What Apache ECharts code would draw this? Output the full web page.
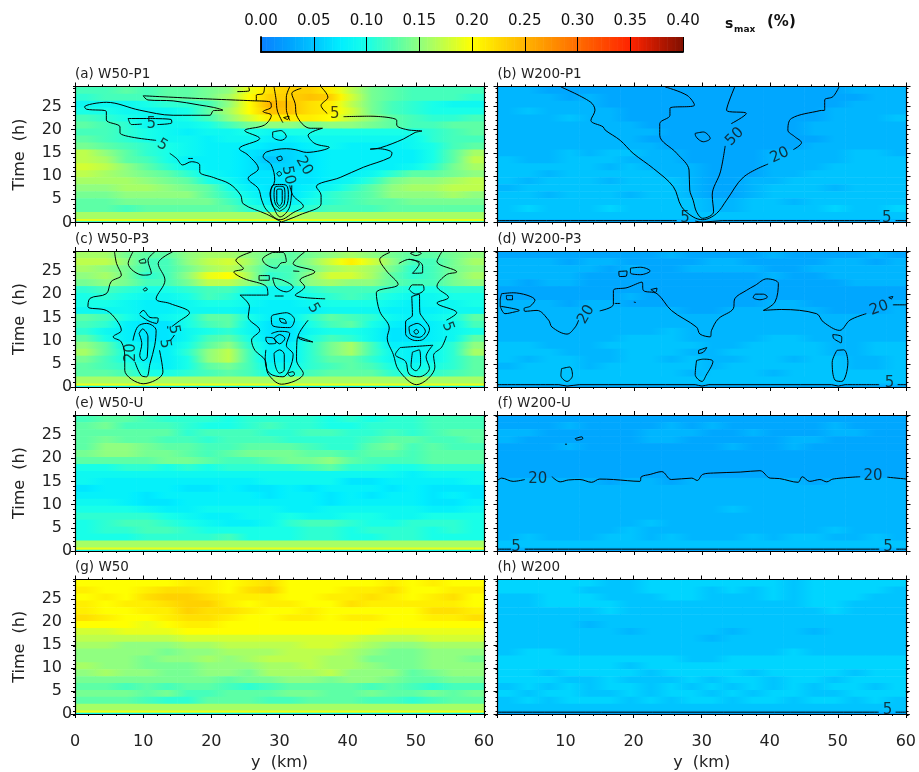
<!DOCTYPE html>
<html><head><meta charset="utf-8">
<script src="https://cdn.jsdelivr.net/npm/echarts@6/dist/echarts.min.js"></script>
<style>html,body{margin:0;padding:0;background:#fff}#c{width:919px;height:772px}</style>
</head><body><div id="c"></div>
<script>
// cell values in units of 0.01 %, top row first; rows centred at 28.5,27,...,3 h, columns 3 km wide
const cellsA=[
[12,12,13,12,13,13,14,15,19,22,23,23,21,17,14,13,12,12,12,12],
[11,12,12,12,13,13,14,16,20,23,23,24,23,18,14,13,12,12,12,11],
[9,9,9,10,11,11,12,15,20,25,24,22,21,17,14,12,11,10,9,9],
[10,10,9,9,9,10,13,16,20,24,24,22,21,18,14,12,11,10,10,10],
[12,11,10,9,9,10,12,15,18,21,21,21,20,17,15,13,12,11,11,12],
[13,12,11,9,9,9,10,12,14,15,15,14,15,15,14,13,12,12,13,13],
[12,12,11,10,9,8,9,9,10,9,10,10,10,10,10,10,10,11,12,13],
[13,12,11,10,9,9,8,9,9,8,8,9,9,9,9,9,9,11,12,12],
[14,13,12,11,10,9,8,8,8,7,7,8,9,8,8,8,9,10,12,13],
[17,15,13,11,10,9,8,8,7,6,6,7,8,8,8,8,8,10,13,16],
[17,16,13,12,10,8,8,8,7,5,6,7,8,8,8,8,8,10,13,17],
[18,17,15,13,11,9,8,8,7,6,6,7,8,8,8,8,9,11,14,16],
[17,16,15,14,13,11,9,8,7,7,7,7,8,8,9,11,13,13,14,15],
[16,16,16,15,14,13,10,9,7,7,7,7,8,9,11,14,15,15,16,17],
[15,15,16,16,15,14,13,10,8,7,7,8,9,11,13,15,16,16,17,17],
[14,14,15,15,15,15,13,11,9,7,7,9,11,12,13,15,15,15,16,15],
[13,13,14,14,14,14,14,12,10,8,8,10,11,12,13,13,14,14,14,14],
[13,13,12,13,13,13,13,13,11,10,10,11,12,12,12,13,13,13,13,13]];
const cellsB=[
[4,4,3,3,3,3,3,3,3,3,3,3,3,3,3,3,3,4,4,4],
[4,4,4,3,4,3,3,3,3,3,3,3,3,3,3,3,3,3,4,4],
[4,4,4,4,4,3,3,3,3,3,3,3,3,3,3,3,3,4,4,4],
[4,5,4,4,4,4,3,3,3,3,3,3,3,3,3,3,4,4,4,4],
[4,4,4,5,4,4,3,3,3,3,3,3,3,3,3,3,4,4,4,5],
[4,4,4,4,4,4,4,3,3,3,3,3,3,3,3,4,4,4,4,4],
[4,4,4,4,4,4,4,4,3,3,3,3,3,3,3,4,4,4,4,4],
[4,4,4,4,4,4,4,3,3,3,3,3,3,3,3,3,4,4,4,4],
[4,4,4,4,4,4,4,4,3,3,3,3,3,3,3,4,4,4,4,4],
[4,4,4,5,4,5,5,4,4,3,3,3,3,4,4,4,4,5,5,4],
[5,4,4,5,5,5,4,4,4,3,3,3,3,4,4,4,4,5,5,5],
[5,5,5,5,5,4,5,4,4,4,3,3,3,4,4,4,5,5,5,5],
[5,5,4,5,5,5,5,5,4,4,3,3,3,4,4,5,5,5,5,5],
[5,4,5,5,5,4,5,5,5,4,3,3,4,4,5,5,5,5,5,5],
[4,5,5,5,5,5,5,5,5,4,3,3,4,5,5,5,4,5,5,5],
[5,5,4,5,5,5,4,5,5,4,3,3,4,5,5,5,5,5,5,5],
[5,5,5,5,5,5,5,5,5,5,4,4,5,5,4,5,5,5,5,5],
[5,6,5,5,5,6,5,5,5,5,4,4,5,5,5,5,6,5,5,6]];
const cellsC=[
[16,16,14,13,13,15,16,16,15,14,13,14,15,16,15,14,13,13,14,15],
[17,17,15,12,12,15,17,18,16,13,13,15,18,21,18,15,12,12,14,16],
[16,15,14,12,12,14,16,17,15,12,12,14,16,17,16,14,11,12,14,15],
[15,16,14,11,12,15,19,20,16,11,12,15,18,18,16,13,11,12,14,16],
[14,15,14,12,12,14,17,17,15,12,12,15,16,15,15,13,12,12,14,15],
[11,12,11,10,10,11,12,12,10,9,9,11,12,12,12,11,10,10,11,11],
[10,11,10,9,9,10,12,11,9,9,9,10,11,12,11,10,9,9,10,10],
[10,10,9,8,8,9,10,10,9,8,8,9,10,10,10,9,8,9,9,10],
[9,9,9,8,8,9,9,9,8,8,8,8,9,9,9,8,8,8,9,9],
[13,12,10,8,9,10,13,13,10,8,8,11,13,12,11,9,8,9,10,13],
[12,11,8,7,7,10,12,13,9,7,7,10,12,13,10,8,7,8,9,12],
[11,9,8,7,7,9,10,11,9,7,7,9,10,10,9,7,7,8,9,10],
[13,10,8,7,7,9,12,13,10,7,7,10,12,11,9,7,7,8,9,13],
[15,13,9,8,8,10,13,15,11,8,8,11,14,16,12,8,8,9,11,15],
[16,13,10,8,8,11,15,17,12,8,8,11,14,16,12,9,8,9,11,16],
[14,12,10,8,8,10,15,17,12,8,8,11,13,13,11,9,8,9,11,13],
[13,12,11,9,8,10,13,14,12,9,9,11,12,13,12,10,9,10,11,13],
[13,13,12,10,10,11,12,13,12,10,10,12,13,13,13,11,10,11,12,13]];
const cellsD=[
[3,3,3,3,3,3,3,3,4,3,3,3,3,4,3,3,3,3,4,3],
[4,4,4,3,4,4,3,3,3,3,4,4,3,3,3,3,4,4,3,4],
[4,4,4,4,4,3,4,3,3,4,4,4,4,3,3,4,4,4,4,4],
[4,4,4,4,3,3,3,3,3,3,3,3,3,4,3,3,4,4,4,4],
[4,3,4,4,3,3,3,3,3,3,3,3,3,3,3,3,3,4,4,4],
[3,3,3,3,3,3,3,3,3,3,3,3,3,3,3,3,3,3,3,3],
[3,3,3,3,3,3,4,3,3,3,3,3,3,3,3,3,3,3,3,3],
[4,4,4,3,4,4,3,3,3,3,3,3,3,4,4,3,3,3,3,4],
[4,4,4,4,4,4,4,4,4,3,3,4,4,4,4,4,3,3,3,4],
[4,4,4,4,4,4,4,4,4,4,4,4,4,4,4,4,4,4,4,4],
[4,4,4,4,4,4,4,4,4,4,4,4,4,4,4,4,4,4,4,4],
[4,4,4,4,4,4,4,4,5,4,4,4,4,4,4,4,4,4,4,4],
[4,4,4,4,4,4,5,5,5,4,4,4,4,5,5,4,4,4,4,4],
[5,5,4,4,4,5,5,5,5,5,4,4,5,5,5,5,4,4,5,5],
[5,5,5,4,4,4,5,5,5,4,4,5,5,5,5,5,4,4,5,5],
[5,4,5,5,4,4,5,5,4,5,4,4,5,5,4,5,5,4,4,5],
[4,5,5,5,4,5,5,5,5,5,4,5,5,5,5,5,5,4,4,5],
[5,5,5,5,5,5,5,5,5,4,5,5,5,4,5,5,5,5,5,5]];
const cellsE=[
[12,13,13,12,11,11,11,10,11,11,11,11,10,11,10,11,11,12,12,12],
[13,14,12,12,12,11,10,10,11,12,11,11,10,10,11,11,11,12,12,12],
[13,13,13,13,13,11,12,12,12,11,11,12,12,11,11,12,11,12,13,13],
[13,14,13,13,12,12,11,12,12,12,11,11,11,11,12,13,13,12,12,13],
[13,15,15,14,13,13,12,12,13,13,13,12,11,11,13,14,12,13,12,12],
[14,15,15,14,14,13,12,13,14,14,14,13,13,12,13,13,12,13,13,13],
[13,13,13,13,14,14,13,12,12,13,14,14,15,13,12,12,12,13,13,13],
[10,10,11,11,10,11,10,11,11,11,11,12,13,11,11,10,10,11,11,11],
[9,9,9,9,9,9,9,9,9,9,9,9,9,9,9,9,8,9,9,9],
[9,8,8,8,8,8,8,8,8,9,9,9,9,7,7,8,8,8,8,9],
[7,8,8,8,8,7,7,8,7,7,8,7,8,8,8,7,8,7,7,7],
[8,8,8,7,8,8,8,8,8,7,8,8,7,8,7,8,8,7,8,7],
[9,9,8,7,7,8,8,8,8,8,8,8,7,8,8,8,8,7,7,8],
[10,10,10,9,8,8,9,9,9,9,8,8,9,9,9,9,9,8,8,9],
[11,11,11,11,10,9,8,8,9,9,10,9,9,10,10,9,9,10,10,10],
[10,11,12,12,11,10,9,8,8,9,11,12,12,11,10,10,11,11,11,10],
[10,11,11,12,12,11,10,10,10,10,10,11,11,10,11,11,11,10,11,10],
[10,10,10,11,11,11,11,12,10,10,10,11,11,10,10,11,11,10,10,10]];
const cellsF=[
[3,3,3,3,3,3,3,3,3,3,3,3,3,3,3,3,3,3,3,3],
[3,3,3,4,3,3,3,3,4,3,4,3,3,3,3,3,4,3,3,3],
[4,4,3,3,3,3,3,4,4,4,3,3,4,3,3,3,4,4,3,3],
[4,3,3,3,3,3,3,4,4,3,3,3,3,3,4,4,3,3,3,3],
[3,3,3,4,3,3,3,3,3,3,3,4,3,3,4,3,3,3,3,3],
[3,3,3,3,3,3,3,3,3,3,3,3,3,3,3,3,3,3,3,3],
[3,3,3,3,3,3,3,3,3,3,3,3,3,3,3,3,3,3,3,3],
[3,3,3,3,3,3,3,3,3,3,3,3,3,3,3,3,3,3,3,3],
[3,3,3,3,3,3,3,3,3,3,3,3,3,3,3,3,3,3,3,3],
[4,4,4,4,4,3,4,4,3,4,4,4,4,4,4,3,4,4,4,4],
[4,4,4,4,4,4,4,4,4,4,4,4,4,4,4,4,4,4,4,4],
[4,4,4,4,4,4,4,4,4,4,4,4,4,4,4,4,4,4,4,4],
[4,4,4,4,4,4,4,4,4,4,4,4,4,4,4,4,4,4,4,4],
[4,4,4,4,4,4,4,4,4,4,4,5,4,4,4,4,4,4,4,4],
[4,4,4,4,4,4,4,4,4,4,4,4,4,4,4,4,4,4,4,4],
[4,4,4,4,4,4,4,5,4,4,4,4,4,4,4,4,4,4,4,4],
[4,4,4,4,4,4,5,4,4,4,4,4,4,4,4,4,5,4,4,4],
[4,5,4,4,4,5,5,4,5,4,4,4,5,4,5,5,4,4,5,4]];
const cellsG=[
[20,20,20,20,20,21,21,20,21,22,20,20,20,20,20,21,20,21,20,20],
[21,20,20,21,22,22,21,20,22,23,20,20,20,21,21,22,20,20,21,21],
[20,21,20,22,23,23,22,21,21,21,20,20,21,21,22,21,20,21,22,20],
[21,20,21,21,22,23,23,21,20,21,21,20,20,22,21,21,21,21,21,20],
[21,20,20,21,21,23,22,22,21,20,20,21,20,20,20,20,20,22,22,21],
[22,21,20,20,21,22,22,21,20,20,21,21,20,21,21,20,20,21,21,22],
[20,20,20,19,20,21,21,20,20,20,20,20,20,20,20,20,20,20,20,20],
[18,18,19,19,19,20,20,20,20,20,20,20,20,20,20,19,19,19,19,19],
[17,17,17,17,17,18,18,18,18,18,18,18,18,18,17,17,17,18,18,18],
[16,16,15,15,15,16,16,17,17,17,17,18,18,17,16,15,15,16,16,16],
[15,15,15,15,14,15,15,16,16,16,17,17,17,16,15,14,14,15,15,15],
[15,15,15,14,15,15,16,15,16,17,17,17,16,16,14,14,14,15,15,14],
[16,15,15,14,14,14,15,15,15,16,16,17,16,16,15,14,14,15,15,15],
[15,16,15,15,14,14,15,15,14,16,16,16,17,15,15,15,13,14,15,15],
[14,14,14,14,14,14,14,13,14,14,15,15,14,15,15,14,13,13,14,14],
[13,13,12,13,12,13,13,12,11,12,13,13,13,13,12,13,12,11,12,12],
[14,14,14,13,14,12,12,13,13,13,14,14,13,13,14,13,13,14,13,14],
[13,13,13,12,11,11,13,13,13,12,12,13,13,13,12,12,11,12,13,13]];
const cellsH=[
[6,6,6,6,6,5,5,6,6,6,6,6,6,6,5,6,6,6,6,6],
[6,6,6,6,5,5,5,6,6,6,5,6,5,6,5,6,6,6,6,5],
[5,5,6,6,6,5,5,5,6,6,5,5,5,6,5,6,6,6,5,5],
[5,5,6,6,6,6,5,5,5,5,5,5,5,5,5,6,6,5,5,5],
[5,5,5,5,5,6,5,5,5,5,5,5,5,5,5,5,6,5,5,5],
[5,5,5,5,5,5,5,5,5,5,5,5,5,5,5,5,5,5,5,5],
[5,5,5,5,4,5,5,5,5,5,5,5,5,5,5,5,5,5,5,5],
[5,5,5,5,5,5,4,5,5,5,5,4,5,5,5,4,5,5,5,5],
[5,5,5,5,5,5,5,5,5,5,4,5,5,5,5,5,5,5,5,5],
[5,5,5,5,5,5,5,5,5,5,5,5,5,5,5,5,5,5,5,5],
[5,6,6,5,5,5,5,5,5,5,5,5,5,5,6,5,5,5,5,5],
[6,6,6,6,6,6,6,6,6,5,5,6,6,6,6,6,6,6,6,6],
[6,6,6,6,6,6,5,6,6,6,6,6,6,6,6,6,6,6,6,6],
[6,6,5,6,6,6,6,5,6,6,6,6,5,6,6,6,6,5,6,6],
[6,6,6,5,5,6,5,5,5,6,5,6,6,5,6,6,5,6,6,6],
[5,6,5,6,5,6,6,5,6,5,6,5,6,5,6,5,6,6,5,6],
[6,5,6,6,5,5,6,5,6,6,5,6,5,6,6,5,5,6,6,6],
[5,6,5,6,6,6,5,6,5,6,6,5,6,6,5,6,6,5,6,5]];
// lowest three rows (0-0.25, 0.25-0.75, 0.75-2.25 h), in 0.01 %
const bottomW50P1=[9,19,16],bottomW200=[3,4,5],bottomW50=[9,19,16];
const rowEdges=[29.3,27.75,26.25,24.75,23.25,21.75,20.25,18.75,17.25,15.75,14.25,12.75,11.25,9.75,8.25,6.75,5.25,3.75,2.25];
const colWidthKm=3;
const xTickLabels=['0','10','20','30','40','50','60'];
const palette=['#0a80ff','#00a0ff','#00c4ff','#00eeff','#18ffe8','#50ffb0','#90ff80','#c8ff40','#ffff00','#ffd800','#ffb400','#ff9000','#ff6c00','#ff4800','#ff2400','#c01800','#801000'];

// contours: [y km, time h]
const contoursA=[
[[30.3,.1],[28.1,1.8],[24.7,4],[24.3,5.9],[22.7,8.3],[20.3,9.7],[18.3,10.9],[18.3,12.4],[17.1,13.1],[15.8,12.4],[14.9,13.8],[13.9,14.9]],
[[11.9,17.7],[6.6,19.3],[6.6,20.6],[4.6,22.1],[4.6,23.9],[1.7,24.4],[1.4,24.9],[4.6,25.9],[9.5,24.2],[14.4,23.1],[19.8,23.1],[20.3,24.1],[21.7,24.2],[20.3,24.8],[18.3,25.3],[14.4,26.2],[10.7,26.4],[10,27.3],[18.3,26.7],[26.6,26.2],[26.6,27.4],[27.6,27.8],[27.8,29.2]],
[[11,22.4],[14.1,22.2],[14.2,21.5],[12.1,21.1]],[[9.8,21.2],[8.3,21.1],[7.8,22.4],[11,22.4]],
[[16.6,13.8],[17.3,13.8]],[[23.8,28.2],[25.6,28.4],[25.5,29.1]],
[[26.6,26.2],[28.6,26],[28.8,24.9],[27.6,23.9],[28.8,23.1],[27.8,21],[24.9,19.8],[27.1,18.1],[24.1,15.9],[25.4,14.5],[26.9,11.6],[25.4,9.5],[26.9,7.3],[27.4,4.8],[28.1,2.7],[30.1,.6],[32.1,2.2],[33.5,3.5],[32,5.8],[31.5,8]],
[[33.2,28.9],[31.8,27.8],[32.3,25.6],[32.5,23.1],[34.5,20.3],[36.3,20.3],[34.2,18.8],[35.2,17],[37.3,16.2],[34,15.1],[32.3,15.7],[31,15.9],[28.1,15.2],[27.6,14.2],[28.8,12.4],[29.3,9.1],[28.6,6.3],[29.1,3.4],[30.1,1.2],[31.5,3.4],[31.8,8]],
[[30.3,.1],[32.9,1.6],[36.1,4],[36.1,5.9],[35.4,7.7],[38.9,9.7],[42.3,11.9],[46.2,14],[46.5,15],[44.5,15.9],[43.3,15.8],[44.8,16.1],[48.2,18],[49.9,19.4],[50.9,19.7],[48.7,20],[47.2,21],[47.2,22],[43.3,22.9],[39.4,22.8]],
[[37,23.5],[36.1,25.2],[37.1,27],[36.1,29.2]],
[[30,2.4],[31,3.5],[31.3,6],[31,8],[30,8.2],[29,8],[28.7,6],[29,3.5],[30,2.4]],
[[30,3],[30.7,4],[30.8,6],[30.6,7.7],[30,7.8],[29.4,7.7],[29.2,6],[29.4,4],[30,3]],
[[30,3.5],[30.4,4.5],[30.4,7],[30,7.2],[29.6,7],[29.6,4.5],[30,3.5]],
[[29,19.5],[30.2,19.8],[31,18.5],[30.2,17.7],[29,18.5],[29,19.5]],
[[29.6,14],[30.2,14.3],[30.4,13.6],[29.9,13.3],[29.6,14]],
[[29.6,10.6],[30,11],[30.3,10.4],[29.9,10],[29.6,10.6]],
[[30.6,22.6],[31.4,22.9],[31.2,22.2],[30.6,22.6]],
[[29.2,29.2],[29.5,26.5],[29.7,24],[30.5,21.5]],[[31.5,29.2],[31,27],[31,24.5],[31.5,22]]];
const labelsA=[[11.2,21.1,'5',0],[12.8,16.7,'5',-30],[38.1,23.3,'5',0],[33.6,12.2,'20',-60],[31.3,10.2,'50',-80]];
const contoursB=[
[[9.3,29.2],[13.6,26],[14.3,24.2],[13.7,22],[15.5,20.6],[15.8,19.9],[18,17.7],[19.9,14.9],[22.9,11.6],[25.8,7.7],[27,3.4],[28.7,1.2],[30.1,.6],[32.1,1.9],[33.6,4.8],[36.1,9.8],[39.7,12.6]],
[[43.4,15.7],[44.6,17.2],[43.6,18.5],[42.6,19.9],[43.1,22.4],[47.3,24.1],[48,24.2],[48,26.4],[49.2,27.1],[50.1,29.2]],
[[24.6,29.2],[27.8,27.4],[28.9,25.3],[25.3,24.6],[25.3,23.1],[23.8,21.3],[23.8,18.8],[26.3,14.9],[28.1,11.3],[28.2,7],[28.7,4.8],[29.2,2.3],[30.1,.9],[31.7,2.3],[31.5,5.9],[32.7,10.9],[33.4,16.5]],
[[34.3,21.3],[36.5,23.5],[33.6,24.2],[34.8,29.2]],
[[29,19.2],[30.2,19.5],[31.2,18.1],[30.2,17.4],[29,19],[29,19.2]],
[[0,.4],[26.3,.4]],[[29,.3],[30.2,.1],[33,.4],[56.1,.4]],[[58.4,.4],[60,.4]]];
const labelsB=[[34.8,18.5,'50',45],[41.4,14.5,'20',25],[27.5,.9,'5',0],[57.1,.9,'5',0]];
const contoursC=[
[[5.8,29.1],[6.1,26.6],[6.8,24.1],[5.3,22.7],[4.6,20.1],[2.2,19.1],[1.9,17.3],[4.6,16.5],[6.1,14.4],[6.8,12.2],[5.6,10.8],[6.8,9.7],[7.3,6.5],[7.3,3.6],[10,.7],[12.9,3.2],[12.4,7.9]],
[[14.6,11.2],[14,10]],[[14.2,13],[15.1,14],[16.8,16],[13.9,18],[11.9,19],[13.2,23],[12.2,26.6],[14.3,29.1]],
[[8.5,29.1],[7.8,26.6],[10,24.1],[11.2,24.5],[10.7,27.3],[11.7,29.1]],
[[9.4,27.2],[10.2,27.6],[10.4,26.8],[9.6,26.7],[9.4,27.2]],[[10,21],[10.4,21.4],[10.6,21],[10.2,20.7],[10,21]],
[[8.5,10],[9.2,13],[10.5,13.7],[11.9,12.2],[11.7,9],[11,5],[10.5,2.2],[9.7,2.5],[8.8,5.4]],
[[9.4,11.5],[9.9,12.5],[10.7,10.8],[10.6,6.5],[10,5.7],[9.5,6.8],[9.8,9.3],[9.4,11.5]],
[[9.5,15.8],[10,16.5],[11,15],[12.2,14.8],[12,13.7],[10.7,14.3],[9.5,15.5]],[[13.6,12.6],[13.6,13.1]],
[[25.9,29.1],[23.6,27.3],[24.7,25.5],[23.3,24.8],[24.7,23.4],[28.1,21.6],[28.3,19.8],[24.2,19.8],[25.6,17.3],[25.4,15.1],[27.1,12.2],[25.9,10.1],[26.4,7.9],[27.9,5.8],[28.3,2.9],[30.3,.6],[33.5,2.9],[32.5,5.8],[32.7,10.8],[34.9,9.7],[32.7,10.8],[34.2,14.4]],
[[36.7,19],[32.3,19.8],[33.7,21.6],[33,23],[35.2,24.8],[32,26.6],[33.7,29.1]],
[[29.3,19.6],[30.6,19.6]],[[32,25],[32.9,24.9]],
[[29,29],[27.5,27.5],[28,26.4],[29.5,25.6],[30.2,26.7],[31,27],[30.5,29],[29,29]],
[[27,24],[28.5,24],[28.5,23],[27,23],[27,24]],[[29,23.5],[30.5,23],[32,21.5],[31,20.5],[29.5,21.5],[29,23.5]],
[[29,15.5],[31,16],[32.2,14.5],[31.5,12.8],[29,13.2],[28.8,15],[29,15.5]],[[30,14.8],[30.8,14.5],[31,13.7],[30.2,14],[30,14.8]],
[[28,10.7],[29,10.6],[29.5,9.5],[28.5,9.3],[28,10.2],[28,10.7]],[[29.2,10.5],[30,11.3],[30.8,10.5],[30,9.3],[29.2,10.5]],[[28.8,11.5],[30,12],[31.5,11.5],[31,9],[32,7],[31.5,4],[30.5,2.2],[28.5,3],[27.9,6],[28,8]],
[[29.2,7.3],[30,8],[30.7,7],[30.7,3.7],[30,3],[29.4,4.5],[29.2,7.3]],[[31.2,3],[32,3.3],[32.2,2.7],[31.6,2.3],[31.2,3]],
[[46.2,29],[44.7,27.5],[45.7,25],[47.4,22.1],[44.2,20.3],[44.7,16.3],[46.1,12.7],[45.8,10.6],[46.7,7],[47.5,3.6],[50.1,.5],[52.8,4.3],[52.6,6.8],[53.8,8.6],[54.5,11]],
[[54.5,14.4],[56,16],[53.1,18.1],[54.8,19.3],[53.1,21.7],[54.5,24.2],[56,24.8],[53.1,27],[53.8,29.1]],
[[47.5,26.6],[49,27.5],[50.5,26.5],[49.5,24.5],[51,24.6],[51,26],[50.5,27],[49,27.5]],
[[49,21],[49.5,22],[51,22],[51.2,21],[50,20],[49,21]],
[[49.4,19.5],[50.5,20],[50.6,16],[51,15],[52,12.5],[51,10.2],[50,10],[48.5,11.5],[48.5,14],[49.5,15.5],[49.4,19.5]],
[[49,13],[50.2,13.7],[51.4,12],[50.5,10.7],[49.2,11.3],[49,13]],[[49.7,12],[50.1,12.4],[50.4,11.8],[50,11.4],[49.7,12]],
[[47.7,8.5],[52.5,9],[51.5,6.5],[52,4],[50.5,2.2],[49,2.8],[48.5,5.5],[47,7],[47.7,8.5]],
[[49.5,7.5],[50.5,8],[50.7,5],[50,3.5],[49.3,4.5],[49.5,7.5]],
[[49.2,28.8],[50,28.3],[50.8,28.8],[50,29.2],[49.2,28.8]]];
const labelsC=[[13.2,9.3,'5',-80],[14.5,12.4,'5',-80],[8.2,7.4,'20',90],[35,17,'5',-60],[54.7,13,'5',-70]];
const contoursD=[
[[.4,17.4],[1.1,15.8],[2.6,16.2],[3.2,16.5],[2.3,16.9],[.4,17.4]],
[[.6,20.1],[2.3,20.3],[5.5,18.7],[4.8,17.4],[3.9,16.9],[4,16.3],[5.8,16.5],[7.5,14.4],[8,12.9],[10.2,11.4],[11.4,12.9],[11.9,14.4]],
[[15,16.4],[17,17.8],[17,20.8],[19,21.4],[21.2,22.6],[21.4,20.8],[23.4,20.1],[25.5,16.5],[29.2,12.9],[29.7,11.4],[31.2,10.8],[31.4,12.2],[32.4,14.7],[34.6,16.9],[34.8,19],[36.5,20.8],[37.8,21.9],[39.5,23.3],[41.2,22.3],[40.7,18.3],[39,16.5],[41.7,16.7],[46.8,15.8],[47.8,14],[50.2,12.2],[51.7,14.4],[54.1,15.8]],
[[58,17.7],[60,17.7]],
[[.6,20.1],[.4,18.8],[.4,17.4]],[[1.3,19.7],[2.2,19.7],[2.2,18.8],[1.4,18.8],[1.3,19.7]],
[[17.8,24.9],[19,25],[18.9,23.9],[17.9,23.8],[17.8,24.9]],[[19.5,25.6],[21,25.8],[22.4,25],[21,24.2],[19.5,24.6],[19.5,25.6]],[[22.5,21],[23.4,21.3],[23.2,20.4],[22.5,21]],
[[37.8,20],[39,20],[39.6,19.4],[38.5,18.8],[37.5,19.3],[37.8,20]],[[57.4,19.3],[58,19.5],[57.8,19],[57.4,19.3]],[[17.2,18],[18,18]],[[20,18.3],[20.3,18.2]],
[[9.4,3.95],[10.6,4.3],[11,2.5],[10.2,1.2],[9.3,2.5],[9.4,3.95]],
[[29.5,7.9],[30.7,8.5],[30.2,7.5],[29.5,7.2],[29.5,7.9]],[[29.2,5.7],[30.2,6],[31.6,5.5],[30.6,2.5],[30,1.2],[29,2.7],[29.2,5.7]],
[[49.2,11.3],[50.5,10.8],[50.4,9.5],[50,9.8],[49.3,10.5],[49.2,11.3]],[[49.8,7.9],[50.8,8],[51.4,5.3],[50.5,1.2],[49.5,1.5],[49.1,5.3],[49.8,7.9]],
[[0,.5],[9,.5],[10.2,.2],[12,.5],[29,.5],[30,.2],[31,.5],[49,.5],[50,.2],[51,.5],[56,.5]],[[58.7,.5],[60,.5]]];
const labelsD=[[13,15.6,'20',60],[56,17,'20',20],[57.5,.9,'5',0]];
const contoursF=[
[[0,15.2],[.6,15.7],[2.3,15],[4,15.4]],
[[8,16],[9.2,14.9],[10.4,15.3],[12.1,15.4],[13.8,14.8],[15,15.5],[17,15.4],[20.9,15],[21.1,16],[22.4,16.5],[24.1,17.1],[25.5,15.4],[28.5,15.7],[29.3,15.2],[30.1,16.5],[31.7,16.8],[35.6,17],[38.5,17.3],[40,15.7],[41.4,15.6],[44.1,14.8],[44.7,16],[45.8,15],[47.3,15.4],[48.3,14.9],[49.2,15.5],[53.2,16]],
[[57.2,15.9],[60,15.5]],
[[11.4,24.2],[12.4,24.6],[12.5,24.2],[11.6,23.9],[11.4,24.2]],[[9.9,23],[10.2,23]],
[[0,.4],[2,.4]],[[4,.4],[56,.4]],[[58.5,.4],[60,.4]]];
const labelsF=[[5.9,15.4,'20',0],[55.1,16.1,'20',0],[2.7,.9,'5',0],[57.3,.9,'5',0]];
const contoursH=[[[0,.4],[56,.4]],[[58.5,.4],[60,.4]]];
const labelsH=[[57.3,.9,'5',0]];

const FONT='"DejaVu Sans"';
const COLX=[75,497.5],W=409,H=136,TOPS=[86.5,251,415,579.5];
const panels=[
 {t:'(a) W50-P1',cells:cellsA,bottom:bottomW50P1,c:contoursA,l:labelsA},
 {t:'(b) W200-P1',cells:cellsB,bottom:bottomW200,c:contoursB,l:labelsB},
 {t:'(c) W50-P3',cells:cellsC,bottom:bottomW50,c:contoursC,l:labelsC},
 {t:'(d) W200-P3',cells:cellsD,bottom:bottomW200,c:contoursD,l:labelsD},
 {t:'(e) W50-U',cells:cellsE,bottom:bottomW50,c:[],l:[]},
 {t:'(f) W200-U',cells:cellsF,bottom:bottomW200,c:contoursF,l:labelsF},
 {t:'(g) W50',cells:cellsG,bottom:bottomW50,c:[],l:[]},
 {t:'(h) W200',cells:cellsH,bottom:bottomW200,c:contoursH,l:labelsH}];

const colorOf=v=>echarts.color.lerp(Math.max(0,Math.min(1,v/.4)),palette);
const grids=[],xAxes=[],yAxes=[],series=[],titles=[];
const axisLine={show:true,onZero:false,lineStyle:{color:'#000',width:1.2}};
// data dims: x0,x1,t0,t1,value,valueLeftNeighbour,valueRightNeighbour
const cellItem=(p,api)=>{
  const a=api.coord([api.value(0),api.value(2)]),b=api.coord([api.value(1),api.value(3)]);
  const v=api.value(4),l=api.value(5),r=api.value(6);
  const fill=new echarts.graphic.LinearGradient(0,0,1,0,[
    {offset:0,color:colorOf((v+l)/2)},{offset:.5,color:colorOf(v)},{offset:1,color:colorOf((v+r)/2)}]);
  return {type:'rect',shape:{x:a[0],y:a[1],width:b[0]-a[0]+.6,height:b[1]-a[1]+.6},style:{fill},silent:true};
};
panels.forEach((p,i)=>{
  const col=i%2,row=(i-col)/2;
  const left=COLX[col],top=TOPS[row];
  const g=grids.length;
  grids.push({left,top,width:W,height:H});
  grids.push({left,top,width:W,height:H});
  const lastRow=row===3,firstCol=col===0;
  const xi=xAxes.length,yi=yAxes.length;
  const xBase={type:'value',min:0,max:60,interval:10,gridIndex:g,z:5,axisLine,splitLine:{show:false},
    axisTick:{show:true,length:4,lineStyle:{color:'#000'}},minorTick:{show:true,splitNumber:5,length:2,lineStyle:{color:'#000'}}};
  xAxes.push(Object.assign({},xBase,{position:'bottom',
    axisLabel:{show:lastRow,showMinLabel:firstCol,fontFamily:FONT,fontSize:16,color:'#222',margin:20,formatter:v=>xTickLabels[v/10]},
    name:lastRow?'y  (km)':'',nameLocation:'middle',nameGap:41,nameTextStyle:{fontFamily:FONT,fontSize:16,color:'#222'}}));
  xAxes.push(Object.assign({},xBase,{position:'top',axisLabel:{show:false}}));
  const yBase={type:'value',min:0,max:29.3,interval:5,gridIndex:g,z:5,axisLine,splitLine:{show:false},
    axisTick:{show:true,length:4,lineStyle:{color:'#000'}}};
  yAxes.push(Object.assign({},yBase,{position:'left',
    axisLabel:{show:firstCol,showMaxLabel:false,alignMinLabel:'bottom',fontFamily:FONT,fontSize:16,color:'#222',margin:13},
    name:firstCol?'Time  (h)':'',nameLocation:'middle',nameGap:47,nameRotate:90,nameTextStyle:{fontFamily:FONT,fontSize:16,color:'#222'}}));
  yAxes.push(Object.assign({},yBase,{position:'right',axisLabel:{show:false}}));
  // overlay grid: hourly minor ticks on the time axis
  xAxes.push({type:'value',min:0,max:60,gridIndex:g+1,show:false});
  const ym={type:'value',min:0,max:29.3,interval:1,gridIndex:g+1,z:5,axisLine:{show:false},splitLine:{show:false},axisLabel:{show:false},
    axisTick:{show:true,length:2,lineStyle:{color:'#000'}}};
  yAxes.push(Object.assign({},ym,{position:'left'}));
  yAxes.push(Object.assign({},ym,{position:'right'}));

  const data=[];
  p.cells.forEach((r,ri)=>r.forEach((v,ci)=>{
    const lv=ci>0?r[ci-1]:v,rv=ci<r.length-1?r[ci+1]:v;
    data.push([ci*colWidthKm,(ci+1)*colWidthKm,rowEdges[ri],rowEdges[ri+1],v/100,lv/100,rv/100]);
  }));
  [[2.25,.75],[.75,.25],[.25,0]].forEach((e,k)=>{const v=p.bottom[2-k]/100;data.push([0,60,e[0],e[1],v,v,v]);});
  series.push({type:'custom',xAxisIndex:xi,yAxisIndex:yi,data,renderItem:cellItem,clip:true,silent:true,encode:{x:[0,1],y:[2,3]},z:1,animation:false});
  p.c.forEach(line=>series.push({type:'line',xAxisIndex:xi,yAxisIndex:yi,data:line,smooth:.35,showSymbol:false,symbol:'none',clip:true,silent:true,z:3,animation:false,lineStyle:{color:'#000',width:1}}));
  if(p.l.length) series.push({type:'scatter',xAxisIndex:xi,yAxisIndex:yi,symbolSize:0,silent:true,z:4,animation:false,clip:false,
    data:p.l.map(d=>({value:[d[0],d[1]],label:{show:true,position:'inside',formatter:d[2],rotate:d[3],fontFamily:FONT,fontSize:15,color:'#111'}}))});
  titles.push({text:p.t,left,top:top-19,padding:0,textStyle:{fontFamily:FONT,fontSize:13.5,fontWeight:'normal',color:'#222'}});
});

// colour bar
const cbGrid=grids.length;
grids.push({left:261,top:37,width:422,height:15});
const cbX=xAxes.length,cbY=yAxes.length;
const cbBase={type:'value',min:0,max:.4,interval:.05,gridIndex:cbGrid,z:6,axisLine:{show:true,lineStyle:{color:'#000',width:1.5}},axisTick:{show:false}};
xAxes.push(Object.assign({},cbBase,{position:'top',splitLine:{show:true,lineStyle:{color:'#000',width:1}},
  axisLabel:{show:true,fontFamily:FONT,fontSize:15,color:'#111',margin:8,formatter:v=>v.toFixed(2)}}));
xAxes.push(Object.assign({},cbBase,{position:'bottom',splitLine:{show:false},axisLabel:{show:false}}));
const cbYBase={type:'value',min:0,max:1,gridIndex:cbGrid,z:6,axisLine:{show:true,lineStyle:{color:'#000',width:1.5}},axisTick:{show:false},axisLabel:{show:false},splitLine:{show:false}};
yAxes.push(Object.assign({},cbYBase,{position:'left'}));
yAxes.push(Object.assign({},cbYBase,{position:'right'}));
const cbData=[];for(let k=0;k<160;k++){const v=(k+.5)*.0025;cbData.push([k*.0025,(k+1)*.0025,1,0,v,v,v]);}
series.push({type:'custom',xAxisIndex:cbX,yAxisIndex:cbY,data:cbData,renderItem:cellItem,clip:true,silent:true,encode:{x:[0,1],y:[2,3]},z:1,animation:false});

const chart=echarts.init(document.getElementById('c'),null,{renderer:'canvas'});
chart.setOption({
  animation:false,backgroundColor:'#fff',
  title:titles,grid:grids,xAxis:xAxes,yAxis:yAxes,series,
  graphic:[
    {type:'text',left:725,top:17,style:{text:'s',fontFamily:FONT,fontSize:14,fontWeight:'bold',fill:'#111'}},
    {type:'text',left:734,top:25,style:{text:'max',fontFamily:FONT,fontSize:9,fontWeight:'bold',fill:'#111'}},
    {type:'text',left:767,top:15,style:{text:'(%)',fontFamily:FONT,fontSize:15,fontWeight:'bold',fill:'#111'}}
  ]
});
</script></body></html>
